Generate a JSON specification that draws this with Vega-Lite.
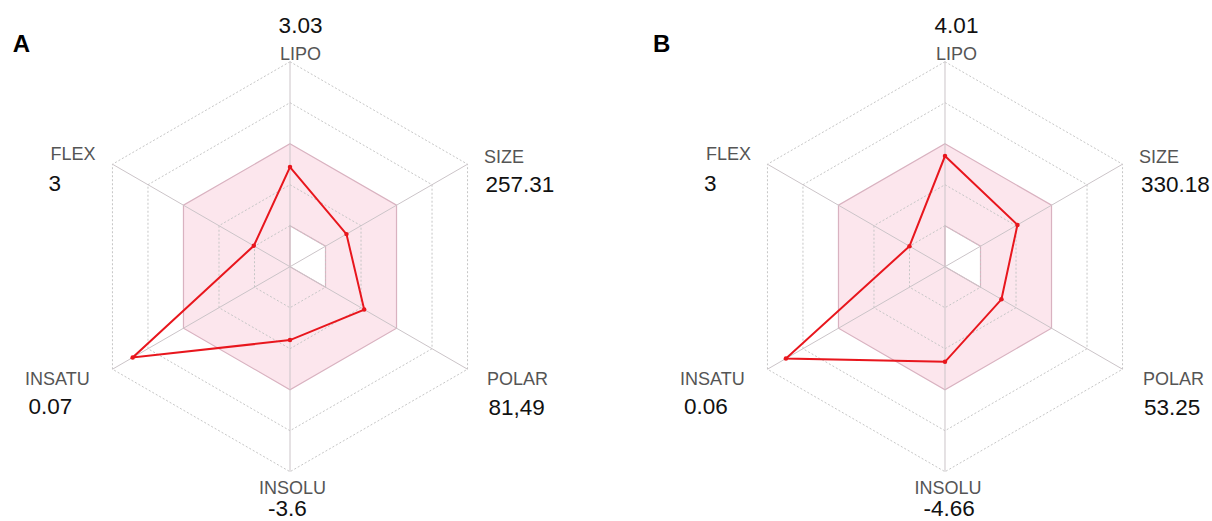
{
  "$schema": "https://vega.github.io/schema/vega-lite/v6.json",
  "padding": 0,
  "spacing": 0,
  "background": "white",
  "config": {"view": {"stroke": null}, "font": "Liberation Sans", "concat": {"spacing": 0}},
  "datasets": {
    "axes": [
      {"axis": "LIPO", "i": 0, "lo": 1, "hi": 3},
      {"axis": "SIZE", "i": 1, "lo": 1, "hi": 3},
      {"axis": "POLAR", "i": 2, "lo": 1, "hi": 3},
      {"axis": "INSOLU", "i": 3, "lo": 0, "hi": 3},
      {"axis": "INSATU", "i": 4, "lo": 0, "hi": 3},
      {"axis": "FLEX", "i": 5, "lo": 0, "hi": 3}
    ],
    "rings": [
      {"ring": 1, "k": [0, 1, 2, 3, 4, 5]},
      {"ring": 2, "k": [0, 1, 2, 3, 4, 5]},
      {"ring": 4, "k": [0, 1, 2, 3, 4, 5]},
      {"ring": 5, "k": [0, 1, 2, 3, 4, 5]}
    ],
    "props": [
      {"panel": "A", "axis": "LIPO", "i": 0, "value": "3.03", "score": 2.43},
      {"panel": "A", "axis": "SIZE", "i": 1, "value": "257.31", "score": 1.59},
      {"panel": "A", "axis": "POLAR", "i": 2, "value": "81,49", "score": 2.09},
      {"panel": "A", "axis": "INSOLU", "i": 3, "value": "-3.6", "score": 1.79},
      {"panel": "A", "axis": "INSATU", "i": 4, "value": "0.07", "score": 4.43},
      {"panel": "A", "axis": "FLEX", "i": 5, "value": "3", "score": 1.02},
      {"panel": "B", "axis": "LIPO", "i": 0, "value": "4.01", "score": 2.70},
      {"panel": "B", "axis": "SIZE", "i": 1, "value": "330.18", "score": 2.04},
      {"panel": "B", "axis": "POLAR", "i": 2, "value": "53.25", "score": 1.59},
      {"panel": "B", "axis": "INSOLU", "i": 3, "value": "-4.66", "score": 2.32},
      {"panel": "B", "axis": "INSATU", "i": 4, "value": "0.06", "score": 4.48},
      {"panel": "B", "axis": "FLEX", "i": 5, "value": "3", "score": 1.00}
    ]
  },
  "hconcat": [
    {
      "width": 606,
      "height": 521,
      "title": {"text": "A", "anchor": "start", "frame": "group", "dx": 12.7, "offset": -76, "fontSize": 24, "fontWeight": "bold", "color": "#000000", "font": "Liberation Sans", "baseline": "alphabetic"},
      "layer": [
        {
          "data": {"name": "axes"},
          "transform": [
            {"calculate": "datum.hi*sin(datum.i*PI/3)", "as": "ox"},
            {"calculate": "datum.hi*cos(datum.i*PI/3)", "as": "oy"}
          ],
          "mark": {"type": "line", "interpolate": "linear-closed", "fill": "#fce6ed", "stroke": "#d9b2c0", "strokeWidth": 1.2},
          "encoding": {
            "x": {"field": "ox", "type": "quantitative", "scale": {"domain": [-7.073, 7.707], "nice": false, "zero": false}, "axis": null},
            "y": {"field": "oy", "type": "quantitative", "scale": {"domain": [-6.202, 6.505], "nice": false, "zero": false}, "axis": null},
            "order": {"field": "i", "type": "quantitative"}
          }
        },
        {
          "data": {"name": "axes"},
          "transform": [
            {"calculate": "datum.lo*sin(datum.i*PI/3)", "as": "ix"},
            {"calculate": "datum.lo*cos(datum.i*PI/3)", "as": "iy"}
          ],
          "mark": {"type": "line", "interpolate": "linear-closed", "fill": "#ffffff", "stroke": "#d9b2c0", "strokeWidth": 1.2},
          "encoding": {
            "x": {"field": "ix", "type": "quantitative", "scale": {"domain": [-7.073, 7.707], "nice": false, "zero": false}, "axis": null},
            "y": {"field": "iy", "type": "quantitative", "scale": {"domain": [-6.202, 6.505], "nice": false, "zero": false}, "axis": null},
            "order": {"field": "i", "type": "quantitative"}
          }
        },
        {
          "data": {"name": "rings"},
          "transform": [
            {"flatten": ["k"]},
            {"calculate": "datum.ring*sin(datum.k*PI/3)", "as": "gx"},
            {"calculate": "datum.ring*cos(datum.k*PI/3)", "as": "gy"}
          ],
          "mark": {"type": "line", "interpolate": "linear-closed", "stroke": "#c6c6c6", "strokeWidth": 1, "strokeDash": [2, 2]},
          "encoding": {
            "x": {"field": "gx", "type": "quantitative", "scale": {"domain": [-7.073, 7.707], "nice": false, "zero": false}, "axis": null},
            "y": {"field": "gy", "type": "quantitative", "scale": {"domain": [-6.202, 6.505], "nice": false, "zero": false}, "axis": null},
            "detail": {"field": "ring", "type": "nominal"},
            "order": {"field": "k", "type": "quantitative"}
          }
        },
        {
          "data": {"name": "axes"},
          "transform": [
            {"calculate": "0", "as": "z"},
            {"calculate": "5*sin(datum.i*PI/3)", "as": "sx"},
            {"calculate": "5*cos(datum.i*PI/3)", "as": "sy"}
          ],
          "mark": {"type": "rule", "stroke": "#cbc4c8", "strokeWidth": 1},
          "encoding": {
            "x": {"field": "z", "type": "quantitative", "scale": {"domain": [-7.073, 7.707], "nice": false, "zero": false}, "axis": null},
            "y": {"field": "z", "type": "quantitative", "scale": {"domain": [-6.202, 6.505], "nice": false, "zero": false}, "axis": null},
            "x2": {"field": "sx"},
            "y2": {"field": "sy"}
          }
        },
        {
          "data": {"name": "props"},
          "transform": [
            {"filter": "datum.panel === 'A'"},
            {"calculate": "datum.score*sin(datum.i*PI/3)", "as": "px"},
            {"calculate": "datum.score*cos(datum.i*PI/3)", "as": "py"},
            {"calculate": "5*sin(datum.i*PI/3)", "as": "lx"},
            {"calculate": "5*cos(datum.i*PI/3)", "as": "ly"}
          ],
          "layer": [
            {
              "mark": {"type": "line", "interpolate": "linear-closed", "stroke": "#e8161d", "strokeWidth": 2},
              "encoding": {
                "x": {"field": "px", "type": "quantitative", "scale": {"domain": [-7.073, 7.707], "nice": false, "zero": false}, "axis": null},
                "y": {"field": "py", "type": "quantitative", "scale": {"domain": [-6.202, 6.505], "nice": false, "zero": false}, "axis": null},
                "order": {"field": "i", "type": "quantitative"}
              }
            },
            {
              "mark": {"type": "point", "filled": true, "size": 20, "color": "#e8161d", "opacity": 1},
              "encoding": {
                "x": {"field": "px", "type": "quantitative", "scale": {"domain": [-7.073, 7.707], "nice": false, "zero": false}, "axis": null},
                "y": {"field": "py", "type": "quantitative", "scale": {"domain": [-6.202, 6.505], "nice": false, "zero": false}, "axis": null}
              }
            },
            {"transform": [{"filter": "datum.axis === 'LIPO'"}], "mark": {"type": "text", "align": "center", "baseline": "alphabetic", "dx": 10.5, "dy": -1.7, "fontSize": 18, "color": "#555555"}, "encoding": {"x": {"field": "lx", "type": "quantitative", "scale": {"domain": [-7.073, 7.707], "nice": false, "zero": false}, "axis": null}, "y": {"field": "ly", "type": "quantitative", "scale": {"domain": [-6.202, 6.505], "nice": false, "zero": false}, "axis": null}, "text": {"field": "axis"}}},
            {"transform": [{"filter": "datum.axis === 'LIPO'"}], "mark": {"type": "text", "align": "center", "baseline": "alphabetic", "dx": 10.5, "dy": -28.4, "fontSize": 22.5, "color": "#111111", "clip": true}, "encoding": {"x": {"field": "lx", "type": "quantitative", "scale": {"domain": [-7.073, 7.707], "nice": false, "zero": false}, "axis": null}, "y": {"field": "ly", "type": "quantitative", "scale": {"domain": [-6.202, 6.505], "nice": false, "zero": false}, "axis": null}, "text": {"field": "value"}}},
            {"transform": [{"filter": "datum.axis === 'SIZE'"}], "mark": {"type": "text", "align": "left", "baseline": "alphabetic", "dx": 16.5, "dy": -1.2, "fontSize": 18, "color": "#555555"}, "encoding": {"x": {"field": "lx", "type": "quantitative", "scale": {"domain": [-7.073, 7.707], "nice": false, "zero": false}, "axis": null}, "y": {"field": "ly", "type": "quantitative", "scale": {"domain": [-6.202, 6.505], "nice": false, "zero": false}, "axis": null}, "text": {"field": "axis"}}},
            {"transform": [{"filter": "datum.axis === 'SIZE'"}], "mark": {"type": "text", "align": "left", "baseline": "alphabetic", "dx": 18, "dy": 27.5, "fontSize": 22.5, "color": "#111111", "clip": true}, "encoding": {"x": {"field": "lx", "type": "quantitative", "scale": {"domain": [-7.073, 7.707], "nice": false, "zero": false}, "axis": null}, "y": {"field": "ly", "type": "quantitative", "scale": {"domain": [-6.202, 6.505], "nice": false, "zero": false}, "axis": null}, "text": {"field": "value"}}},
            {"transform": [{"filter": "datum.axis === 'POLAR'"}], "mark": {"type": "text", "align": "left", "baseline": "alphabetic", "dx": 19.5, "dy": 15.8, "fontSize": 18, "color": "#555555"}, "encoding": {"x": {"field": "lx", "type": "quantitative", "scale": {"domain": [-7.073, 7.707], "nice": false, "zero": false}, "axis": null}, "y": {"field": "ly", "type": "quantitative", "scale": {"domain": [-6.202, 6.505], "nice": false, "zero": false}, "axis": null}, "text": {"field": "axis"}}},
            {"transform": [{"filter": "datum.axis === 'POLAR'"}], "mark": {"type": "text", "align": "left", "baseline": "alphabetic", "dx": 21, "dy": 46, "fontSize": 22.5, "color": "#111111", "clip": true}, "encoding": {"x": {"field": "lx", "type": "quantitative", "scale": {"domain": [-7.073, 7.707], "nice": false, "zero": false}, "axis": null}, "y": {"field": "ly", "type": "quantitative", "scale": {"domain": [-6.202, 6.505], "nice": false, "zero": false}, "axis": null}, "text": {"field": "value"}}},
            {"transform": [{"filter": "datum.axis === 'INSOLU'"}], "mark": {"type": "text", "align": "center", "baseline": "alphabetic", "dx": 2.5, "dy": 22.3, "fontSize": 18, "color": "#555555"}, "encoding": {"x": {"field": "lx", "type": "quantitative", "scale": {"domain": [-7.073, 7.707], "nice": false, "zero": false}, "axis": null}, "y": {"field": "ly", "type": "quantitative", "scale": {"domain": [-6.202, 6.505], "nice": false, "zero": false}, "axis": null}, "text": {"field": "axis"}}},
            {"transform": [{"filter": "datum.axis === 'INSOLU'"}], "mark": {"type": "text", "align": "left", "baseline": "alphabetic", "dx": -22, "dy": 44.5, "fontSize": 22.5, "color": "#111111", "clip": true}, "encoding": {"x": {"field": "lx", "type": "quantitative", "scale": {"domain": [-7.073, 7.707], "nice": false, "zero": false}, "axis": null}, "y": {"field": "ly", "type": "quantitative", "scale": {"domain": [-6.202, 6.505], "nice": false, "zero": false}, "axis": null}, "text": {"field": "value"}}},
            {"transform": [{"filter": "datum.axis === 'INSATU'"}], "mark": {"type": "text", "align": "left", "baseline": "alphabetic", "dx": -87.5, "dy": 15.8, "fontSize": 18, "color": "#555555"}, "encoding": {"x": {"field": "lx", "type": "quantitative", "scale": {"domain": [-7.073, 7.707], "nice": false, "zero": false}, "axis": null}, "y": {"field": "ly", "type": "quantitative", "scale": {"domain": [-6.202, 6.505], "nice": false, "zero": false}, "axis": null}, "text": {"field": "axis"}}},
            {"transform": [{"filter": "datum.axis === 'INSATU'"}], "mark": {"type": "text", "align": "left", "baseline": "alphabetic", "dx": -84, "dy": 45, "fontSize": 22.5, "color": "#111111", "clip": true}, "encoding": {"x": {"field": "lx", "type": "quantitative", "scale": {"domain": [-7.073, 7.707], "nice": false, "zero": false}, "axis": null}, "y": {"field": "ly", "type": "quantitative", "scale": {"domain": [-6.202, 6.505], "nice": false, "zero": false}, "axis": null}, "text": {"field": "value"}}},
            {"transform": [{"filter": "datum.axis === 'FLEX'"}], "mark": {"type": "text", "align": "left", "baseline": "alphabetic", "dx": -62, "dy": -4.2, "fontSize": 18, "color": "#555555"}, "encoding": {"x": {"field": "lx", "type": "quantitative", "scale": {"domain": [-7.073, 7.707], "nice": false, "zero": false}, "axis": null}, "y": {"field": "ly", "type": "quantitative", "scale": {"domain": [-6.202, 6.505], "nice": false, "zero": false}, "axis": null}, "text": {"field": "axis"}}},
            {"transform": [{"filter": "datum.axis === 'FLEX'"}], "mark": {"type": "text", "align": "left", "baseline": "alphabetic", "dx": -64, "dy": 26.8, "fontSize": 22.5, "color": "#111111", "clip": true}, "encoding": {"x": {"field": "lx", "type": "quantitative", "scale": {"domain": [-7.073, 7.707], "nice": false, "zero": false}, "axis": null}, "y": {"field": "ly", "type": "quantitative", "scale": {"domain": [-6.202, 6.505], "nice": false, "zero": false}, "axis": null}, "text": {"field": "value"}}}
          ]
        }
      ]
    },
    {
      "width": 606,
      "height": 521,
      "title": {"text": "B", "anchor": "start", "frame": "group", "dx": 47, "offset": -76, "fontSize": 24, "fontWeight": "bold", "color": "#000000", "font": "Liberation Sans", "baseline": "alphabetic"},
      "layer": [
        {
          "data": {"name": "axes"},
          "transform": [
            {"calculate": "datum.hi*sin(datum.i*PI/3)", "as": "ox"},
            {"calculate": "datum.hi*cos(datum.i*PI/3)", "as": "oy"}
          ],
          "mark": {"type": "line", "interpolate": "linear-closed", "fill": "#fce6ed", "stroke": "#d9b2c0", "strokeWidth": 1.2},
          "encoding": {
            "x": {"field": "ox", "type": "quantitative", "scale": {"domain": [-8.268, 6.512], "nice": false, "zero": false}, "axis": null},
            "y": {"field": "oy", "type": "quantitative", "scale": {"domain": [-6.202, 6.505], "nice": false, "zero": false}, "axis": null},
            "order": {"field": "i", "type": "quantitative"}
          }
        },
        {
          "data": {"name": "axes"},
          "transform": [
            {"calculate": "datum.lo*sin(datum.i*PI/3)", "as": "ix"},
            {"calculate": "datum.lo*cos(datum.i*PI/3)", "as": "iy"}
          ],
          "mark": {"type": "line", "interpolate": "linear-closed", "fill": "#ffffff", "stroke": "#d9b2c0", "strokeWidth": 1.2},
          "encoding": {
            "x": {"field": "ix", "type": "quantitative", "scale": {"domain": [-8.268, 6.512], "nice": false, "zero": false}, "axis": null},
            "y": {"field": "iy", "type": "quantitative", "scale": {"domain": [-6.202, 6.505], "nice": false, "zero": false}, "axis": null},
            "order": {"field": "i", "type": "quantitative"}
          }
        },
        {
          "data": {"name": "rings"},
          "transform": [
            {"flatten": ["k"]},
            {"calculate": "datum.ring*sin(datum.k*PI/3)", "as": "gx"},
            {"calculate": "datum.ring*cos(datum.k*PI/3)", "as": "gy"}
          ],
          "mark": {"type": "line", "interpolate": "linear-closed", "stroke": "#c6c6c6", "strokeWidth": 1, "strokeDash": [2, 2]},
          "encoding": {
            "x": {"field": "gx", "type": "quantitative", "scale": {"domain": [-8.268, 6.512], "nice": false, "zero": false}, "axis": null},
            "y": {"field": "gy", "type": "quantitative", "scale": {"domain": [-6.202, 6.505], "nice": false, "zero": false}, "axis": null},
            "detail": {"field": "ring", "type": "nominal"},
            "order": {"field": "k", "type": "quantitative"}
          }
        },
        {
          "data": {"name": "axes"},
          "transform": [
            {"calculate": "0", "as": "z"},
            {"calculate": "5*sin(datum.i*PI/3)", "as": "sx"},
            {"calculate": "5*cos(datum.i*PI/3)", "as": "sy"}
          ],
          "mark": {"type": "rule", "stroke": "#cbc4c8", "strokeWidth": 1},
          "encoding": {
            "x": {"field": "z", "type": "quantitative", "scale": {"domain": [-8.268, 6.512], "nice": false, "zero": false}, "axis": null},
            "y": {"field": "z", "type": "quantitative", "scale": {"domain": [-6.202, 6.505], "nice": false, "zero": false}, "axis": null},
            "x2": {"field": "sx"},
            "y2": {"field": "sy"}
          }
        },
        {
          "data": {"name": "props"},
          "transform": [
            {"filter": "datum.panel === 'B'"},
            {"calculate": "datum.score*sin(datum.i*PI/3)", "as": "px"},
            {"calculate": "datum.score*cos(datum.i*PI/3)", "as": "py"},
            {"calculate": "5*sin(datum.i*PI/3)", "as": "lx"},
            {"calculate": "5*cos(datum.i*PI/3)", "as": "ly"}
          ],
          "layer": [
            {
              "mark": {"type": "line", "interpolate": "linear-closed", "stroke": "#e8161d", "strokeWidth": 2},
              "encoding": {
                "x": {"field": "px", "type": "quantitative", "scale": {"domain": [-8.268, 6.512], "nice": false, "zero": false}, "axis": null},
                "y": {"field": "py", "type": "quantitative", "scale": {"domain": [-6.202, 6.505], "nice": false, "zero": false}, "axis": null},
                "order": {"field": "i", "type": "quantitative"}
              }
            },
            {
              "mark": {"type": "point", "filled": true, "size": 20, "color": "#e8161d", "opacity": 1},
              "encoding": {
                "x": {"field": "px", "type": "quantitative", "scale": {"domain": [-8.268, 6.512], "nice": false, "zero": false}, "axis": null},
                "y": {"field": "py", "type": "quantitative", "scale": {"domain": [-6.202, 6.505], "nice": false, "zero": false}, "axis": null}
              }
            },
            {"transform": [{"filter": "datum.axis === 'LIPO'"}], "mark": {"type": "text", "align": "center", "baseline": "alphabetic", "dx": 11.5, "dy": -1.7, "fontSize": 18, "color": "#555555"}, "encoding": {"x": {"field": "lx", "type": "quantitative", "scale": {"domain": [-8.268, 6.512], "nice": false, "zero": false}, "axis": null}, "y": {"field": "ly", "type": "quantitative", "scale": {"domain": [-6.202, 6.505], "nice": false, "zero": false}, "axis": null}, "text": {"field": "axis"}}},
            {"transform": [{"filter": "datum.axis === 'LIPO'"}], "mark": {"type": "text", "align": "center", "baseline": "alphabetic", "dx": 11.5, "dy": -28.4, "fontSize": 22.5, "color": "#111111", "clip": true}, "encoding": {"x": {"field": "lx", "type": "quantitative", "scale": {"domain": [-8.268, 6.512], "nice": false, "zero": false}, "axis": null}, "y": {"field": "ly", "type": "quantitative", "scale": {"domain": [-6.202, 6.505], "nice": false, "zero": false}, "axis": null}, "text": {"field": "value"}}},
            {"transform": [{"filter": "datum.axis === 'SIZE'"}], "mark": {"type": "text", "align": "left", "baseline": "alphabetic", "dx": 16.5, "dy": -1.2, "fontSize": 18, "color": "#555555"}, "encoding": {"x": {"field": "lx", "type": "quantitative", "scale": {"domain": [-8.268, 6.512], "nice": false, "zero": false}, "axis": null}, "y": {"field": "ly", "type": "quantitative", "scale": {"domain": [-6.202, 6.505], "nice": false, "zero": false}, "axis": null}, "text": {"field": "axis"}}},
            {"transform": [{"filter": "datum.axis === 'SIZE'"}], "mark": {"type": "text", "align": "left", "baseline": "alphabetic", "dx": 18.5, "dy": 27.5, "fontSize": 22.5, "color": "#111111", "clip": true}, "encoding": {"x": {"field": "lx", "type": "quantitative", "scale": {"domain": [-8.268, 6.512], "nice": false, "zero": false}, "axis": null}, "y": {"field": "ly", "type": "quantitative", "scale": {"domain": [-6.202, 6.505], "nice": false, "zero": false}, "axis": null}, "text": {"field": "value"}}},
            {"transform": [{"filter": "datum.axis === 'POLAR'"}], "mark": {"type": "text", "align": "left", "baseline": "alphabetic", "dx": 20.5, "dy": 15.8, "fontSize": 18, "color": "#555555"}, "encoding": {"x": {"field": "lx", "type": "quantitative", "scale": {"domain": [-8.268, 6.512], "nice": false, "zero": false}, "axis": null}, "y": {"field": "ly", "type": "quantitative", "scale": {"domain": [-6.202, 6.505], "nice": false, "zero": false}, "axis": null}, "text": {"field": "axis"}}},
            {"transform": [{"filter": "datum.axis === 'POLAR'"}], "mark": {"type": "text", "align": "left", "baseline": "alphabetic", "dx": 21.5, "dy": 46, "fontSize": 22.5, "color": "#111111", "clip": true}, "encoding": {"x": {"field": "lx", "type": "quantitative", "scale": {"domain": [-8.268, 6.512], "nice": false, "zero": false}, "axis": null}, "y": {"field": "ly", "type": "quantitative", "scale": {"domain": [-6.202, 6.505], "nice": false, "zero": false}, "axis": null}, "text": {"field": "value"}}},
            {"transform": [{"filter": "datum.axis === 'INSOLU'"}], "mark": {"type": "text", "align": "center", "baseline": "alphabetic", "dx": 3, "dy": 22.3, "fontSize": 18, "color": "#555555"}, "encoding": {"x": {"field": "lx", "type": "quantitative", "scale": {"domain": [-8.268, 6.512], "nice": false, "zero": false}, "axis": null}, "y": {"field": "ly", "type": "quantitative", "scale": {"domain": [-6.202, 6.505], "nice": false, "zero": false}, "axis": null}, "text": {"field": "axis"}}},
            {"transform": [{"filter": "datum.axis === 'INSOLU'"}], "mark": {"type": "text", "align": "left", "baseline": "alphabetic", "dx": -21.5, "dy": 44.5, "fontSize": 22.5, "color": "#111111", "clip": true}, "encoding": {"x": {"field": "lx", "type": "quantitative", "scale": {"domain": [-8.268, 6.512], "nice": false, "zero": false}, "axis": null}, "y": {"field": "ly", "type": "quantitative", "scale": {"domain": [-6.202, 6.505], "nice": false, "zero": false}, "axis": null}, "text": {"field": "value"}}},
            {"transform": [{"filter": "datum.axis === 'INSATU'"}], "mark": {"type": "text", "align": "left", "baseline": "alphabetic", "dx": -87.5, "dy": 15.8, "fontSize": 18, "color": "#555555"}, "encoding": {"x": {"field": "lx", "type": "quantitative", "scale": {"domain": [-8.268, 6.512], "nice": false, "zero": false}, "axis": null}, "y": {"field": "ly", "type": "quantitative", "scale": {"domain": [-6.202, 6.505], "nice": false, "zero": false}, "axis": null}, "text": {"field": "axis"}}},
            {"transform": [{"filter": "datum.axis === 'INSATU'"}], "mark": {"type": "text", "align": "left", "baseline": "alphabetic", "dx": -83.5, "dy": 45, "fontSize": 22.5, "color": "#111111", "clip": true}, "encoding": {"x": {"field": "lx", "type": "quantitative", "scale": {"domain": [-8.268, 6.512], "nice": false, "zero": false}, "axis": null}, "y": {"field": "ly", "type": "quantitative", "scale": {"domain": [-6.202, 6.505], "nice": false, "zero": false}, "axis": null}, "text": {"field": "value"}}},
            {"transform": [{"filter": "datum.axis === 'FLEX'"}], "mark": {"type": "text", "align": "left", "baseline": "alphabetic", "dx": -61.5, "dy": -4.2, "fontSize": 18, "color": "#555555"}, "encoding": {"x": {"field": "lx", "type": "quantitative", "scale": {"domain": [-8.268, 6.512], "nice": false, "zero": false}, "axis": null}, "y": {"field": "ly", "type": "quantitative", "scale": {"domain": [-6.202, 6.505], "nice": false, "zero": false}, "axis": null}, "text": {"field": "axis"}}},
            {"transform": [{"filter": "datum.axis === 'FLEX'"}], "mark": {"type": "text", "align": "left", "baseline": "alphabetic", "dx": -63.5, "dy": 26.8, "fontSize": 22.5, "color": "#111111", "clip": true}, "encoding": {"x": {"field": "lx", "type": "quantitative", "scale": {"domain": [-8.268, 6.512], "nice": false, "zero": false}, "axis": null}, "y": {"field": "ly", "type": "quantitative", "scale": {"domain": [-6.202, 6.505], "nice": false, "zero": false}, "axis": null}, "text": {"field": "value"}}}
          ]
        }
      ]
    }
  ]
}
